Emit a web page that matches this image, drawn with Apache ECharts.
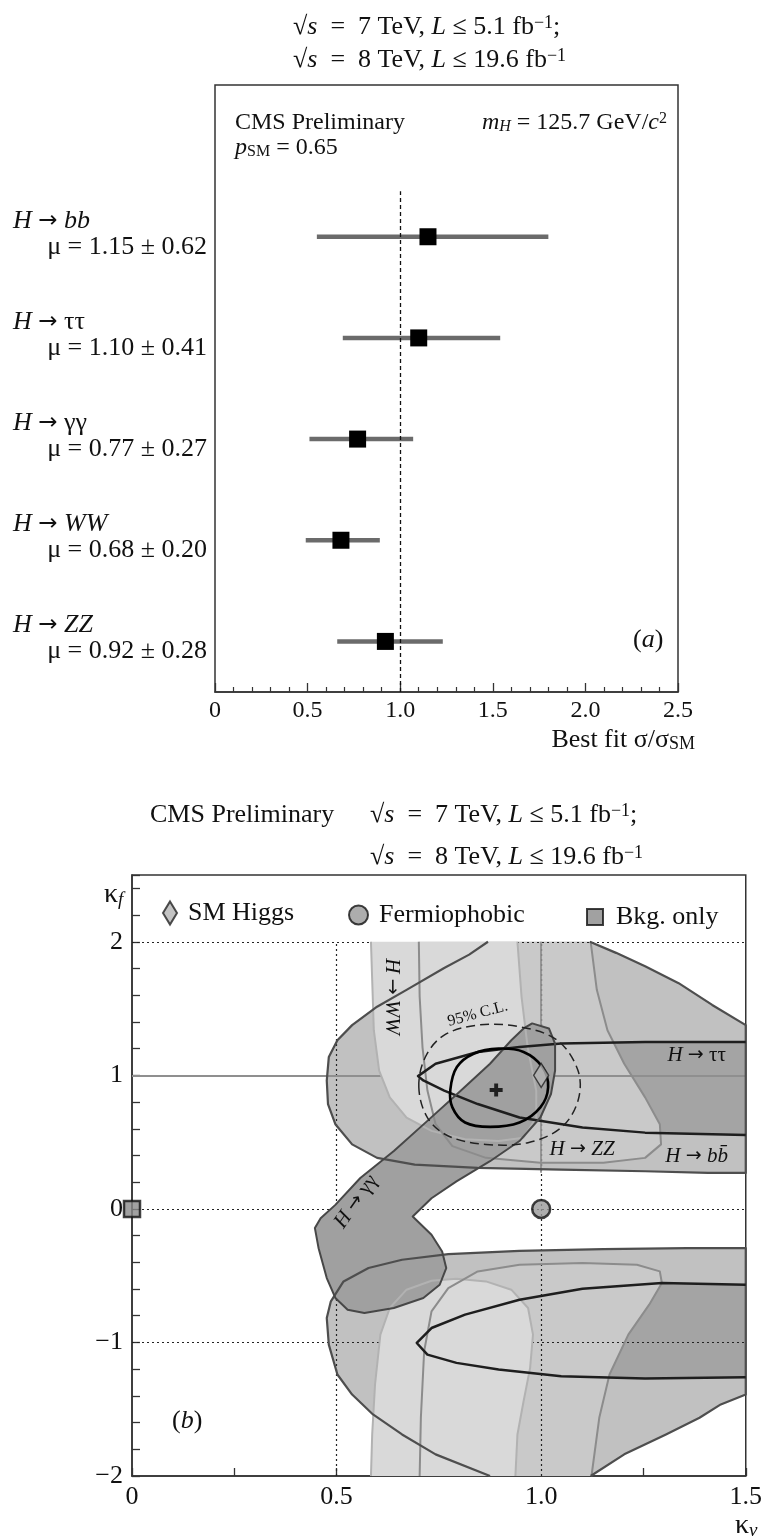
<!DOCTYPE html>
<html>
<head>
<meta charset="utf-8">
<script src="https://cdn.jsdelivr.net/npm/echarts@6/dist/echarts.min.js"></script>
<style>
  html, body { margin: 0; padding: 0; background: #fff; }
  #chart { width: 765px; height: 1537px; }
</style>
</head>
<body>
<div id="chart"></div>
<script>
const SERIF = "'Liberation Serif', 'Times New Roman', serif";

// ---- panel (a): signal strength per channel ----
const channelLabels = ["{i|H} {a|→} {i|bb}", "{i|H} {a|→} ττ", "{i|H} {a|→} γγ", "{i|H} {a|→} {i|WW}", "{i|H} {a|→} {i|ZZ}"];
const muCentral = [1.15, 1.10, 0.77, 0.68, 0.92];
const muError = [0.62, 0.41, 0.27, 0.20, 0.28];
const barLow = [0.55, 0.69, 0.51, 0.49, 0.66];
const barHigh = [1.80, 1.54, 1.07, 0.89, 1.23];
const rowPos = [4.5, 3.5, 2.5, 1.5, 0.5];
const muTickLabels = ["0", "0.5", "1.0", "1.5", "2.0", "2.5"];

// ---- panel (b): kappa_V / kappa_f contours ----
const kvTickValues = [0, 0.5, 1, 1.5];
const kvTickLabels = ["0", "0.5", "1.0", "1.5"];
const kfTickValues = [-2, -1, 0, 1, 2];
const kfTickLabels = ["\u22122", "\u22121", "0", "1", "2"];
const kfGrid = [2, 0, -1];
const kvGrid = [0.5, 1.0];

const bbUpper = [[1.119,2],[1.183,1.917],[1.254,1.816],[1.336,1.69],[1.418,1.527],[1.5,1.376],[1.5,0.269],
  [1.408,0.269],[1.254,0.282],[1.049,0.294],[0.845,0.307],[0.691,0.332],[0.599,0.382],[0.538,0.483],
  [0.497,0.634],[0.479,0.785],[0.476,0.961],[0.481,1.137],[0.502,1.263],[0.538,1.376],[0.599,1.514],
  [0.671,1.64],[0.763,1.804],[0.824,1.904],[0.87,2]];
const bbLower = [[0.875,-2],[0.742,-1.838],[0.66,-1.689],[0.589,-1.539],[0.538,-1.39],[0.502,-1.24],
  [0.481,-1.016],[0.476,-0.817],[0.486,-0.692],[0.517,-0.543],[0.578,-0.443],[0.66,-0.381],[0.773,-0.339],
  [0.947,-0.314],[1.152,-0.301],[1.357,-0.294],[1.5,-0.294],[1.5,-1.39],[1.439,-1.464],[1.387,-1.564],
  [1.305,-1.689],[1.203,-1.838],[1.121,-2]];
const tautauUpper = [[1.5,1.25],[1.254,1.25],[1.049,1.238],[0.947,1.213],[0.845,1.175],[0.742,1.087],
  [0.699,0.994],[0.712,0.962],[0.763,0.886],[0.845,0.785],[0.947,0.684],[1.101,0.609],[1.254,0.571],[1.5,0.553]];
const tautauLower = [[1.5,-0.568],[1.295,-0.555],[1.101,-0.598],[0.947,-0.68],[0.814,-0.792],[0.732,-0.892],
  [0.696,-1.004],[0.722,-1.091],[0.793,-1.153],[0.896,-1.203],[1.049,-1.253],[1.254,-1.27],[1.5,-1.26]];
const zzUpper = [[0.701,2],[0.703,1.59],[0.71,1.21],[0.722,0.886],[0.742,0.634],[0.783,0.47],[0.865,0.382],
  [0.998,0.345],[1.152,0.345],[1.254,0.382],[1.293,0.483],[1.29,0.634],[1.254,0.835],[1.203,1.087],
  [1.162,1.338],[1.136,1.64],[1.121,2]];
const zzLower = [[0.703,-2],[0.706,-1.564],[0.714,-1.066],[0.732,-0.767],[0.773,-0.593],[0.845,-0.468],
  [0.947,-0.418],[1.101,-0.406],[1.234,-0.418],[1.29,-0.468],[1.295,-0.555],[1.264,-0.717],[1.213,-0.941],
  [1.167,-1.24],[1.142,-1.564],[1.123,-2]];
const wwUpper = [[0.584,2],[0.587,1.716],[0.591,1.338],[0.604,1.036],[0.63,0.835],[0.671,0.684],[0.732,0.584],
  [0.814,0.521],[0.896,0.508],[0.957,0.533],[0.988,0.684],[0.988,0.885],[0.967,1.21],[0.952,1.59],[0.942,2]];
const wwLower = [[0.584,-2],[0.587,-1.689],[0.594,-1.315],[0.607,-0.941],[0.63,-0.742],[0.671,-0.605],
  [0.732,-0.538],[0.793,-0.523],[0.865,-0.543],[0.927,-0.605],[0.968,-0.742],[0.98,-0.941],[0.973,-1.19],
  [0.957,-1.44],[0.942,-1.689],[0.937,-2]];
const gammagamma = [[0.978,1.389],[1.019,1.351],[1.034,1.238],[1.034,1.036],[1.024,0.86],[0.998,0.684],
  [0.947,0.508],[0.875,0.357],[0.793,0.206],[0.732,0.08],[0.686,-0.057],[0.732,-0.194],[0.758,-0.319],
  [0.768,-0.443],[0.752,-0.568],[0.712,-0.667],[0.64,-0.742],[0.568,-0.78],[0.527,-0.755],[0.497,-0.667],
  [0.476,-0.518],[0.456,-0.294],[0.447,-0.144],[0.461,-0.07],[0.497,0.03],[0.558,0.231],[0.64,0.433],
  [0.722,0.659],[0.804,0.886],[0.875,1.087],[0.927,1.263],[0.957,1.351]];
const combined68 = [[0.778,0.893],[0.794,1.062],[0.835,1.162],[0.896,1.2],[0.957,1.175],[1.003,1.062],
  [1.017,0.911],[0.998,0.76],[0.947,0.647],[0.875,0.614],[0.814,0.647],[0.783,0.76]];
const combined95 = [[0.701,0.911],[0.717,1.137],[0.763,1.301],[0.845,1.376],[0.947,1.364],[1.039,1.263],
  [1.09,1.036],[1.09,0.81],[1.049,0.609],[0.968,0.496],[0.865,0.483],[0.773,0.546],[0.722,0.684]];
const bestFit = [[0.89, 0.89]];
const smHiggs = [[1, 1]];
const fermiophobic = [[1, 0]];
const bkgOnly = [[0, 0]];

const regionLabels = [
  { text: "{i|H} {a|→} ττ", pos: [1.38, 1.15], rot: 0 },
  { text: "{i|H} {a|→} {i|bb\u0304}", pos: [1.38, 0.395], rot: 0 },
  { text: "{i|H} {a|→} {i|ZZ}", pos: [1.10, 0.445], rot: 0 },
  { text: "{s|95% C.L.}", pos: [0.845, 1.46], rot: 15 },
  { text: "{i|H} {a|→} {i|WW}", pos: [0.635, 1.59], rot: -90 },
  { text: "{i|H} {a|→} γγ", pos: [0.548, 0.055], rot: 55 }
];

function rich(size) {
  return {
    n: { fontFamily: SERIF, fontSize: size, fill: "#111" },
    i: { fontFamily: SERIF, fontSize: size, fontStyle: "italic", fill: "#111" },
    a: { fontFamily: "'DejaVu Sans', sans-serif", fontSize: Math.round(size * 0.9), fill: "#111" },
    s: { fontFamily: SERIF, fontSize: Math.round(size * 0.78), fill: "#111" },
    sub: { fontFamily: SERIF, fontSize: Math.round(size * 0.68), fill: "#111", verticalAlign: "bottom" },
    isub: { fontFamily: SERIF, fontSize: Math.round(size * 0.68), fontStyle: "italic", fill: "#111", verticalAlign: "bottom" },
    sup: { fontFamily: SERIF, fontSize: Math.round(size * 0.68), fill: "#111", verticalAlign: "top" }
  };
}

function txt(x, y, text, size, align) {
  return {
    type: "text", x: x, y: y, silent: true,
    style: {
      text: text, fontFamily: SERIF, fontSize: size, fill: "#111",
      align: align || "left", textAlign: align || "left",
      verticalAlign: "middle", textVerticalAlign: "middle",
      rich: rich(size)
    }
  };
}

function near(v, list) {
  for (let k = 0; k < list.length; k++) if (Math.abs(v - list[k]) < 1e-6) return k;
  return -1;
}

function regionFill(pts, fill, z) {
  return {
    type: "custom", xAxisIndex: 1, yAxisIndex: 1, z: z, silent: true, data: [pts[0]],
    renderItem: function (params, api) {
      return { type: "polygon", shape: { points: pts.map(p => api.coord(p)) }, style: { fill: fill, stroke: "none" } };
    }
  };
}

function regionLine(pts, stroke, width, closed, dash, smooth) {
  return {
    type: "custom", xAxisIndex: 1, yAxisIndex: 1, z: 7, silent: true, data: [pts[0]],
    renderItem: function (params, api) {
      return {
        type: closed ? "polygon" : "polyline",
        shape: { points: pts.map(p => api.coord(p)), smooth: smooth || 0 },
        style: { fill: "none", stroke: stroke, lineWidth: width, lineDash: dash || null, lineJoin: "round" }
      };
    }
  };
}

const chart = echarts.init(document.getElementById("chart"), null, { renderer: "canvas" });

const dotted = { type: [2, 3], color: "#222", width: 1.2 };
const gridMarks = [];
kfGrid.forEach(v => gridMarks.push([{ coord: [0, v] }, { coord: [1.5, v] }]));
kvGrid.forEach(v => gridMarks.push([{ coord: [v, -2] }, { coord: [v, 2] }]));

const option = {
  animation: false,
  backgroundColor: "#fff",
  grid: [
    { left: 215, top: 85, width: 463, height: 607, show: true, borderColor: "#333", borderWidth: 1.5 },
    { left: 132, top: 875, width: 616, height: 601, show: true, borderColor: "#333", borderWidth: 1.5 }
  ],
  xAxis: [
    {
      gridIndex: 0, type: "value", min: 0, max: 2.5, interval: 0.5,
      axisLine: { show: true, onZero: false, lineStyle: { color: "#333", width: 1.5 } },
      axisTick: { show: true, inside: true, length: 9, lineStyle: { color: "#333", width: 1.3 } },
      minorTick: { show: true, splitNumber: 5, length: 5, lineStyle: { color: "#333", width: 1.2 } },
      splitLine: { show: false },
      axisLabel: {
        fontFamily: SERIF, fontSize: 24, color: "#111", margin: 7,
        formatter: function (v) { const k = near(v, [0, 0.5, 1, 1.5, 2, 2.5]); return k < 0 ? "" : muTickLabels[k]; }
      }
    },
    {
      gridIndex: 1, type: "value", min: 0, max: 1.5, interval: 0.25,
      axisLine: { show: true, onZero: false, lineStyle: { color: "#333", width: 1.5 } },
      axisTick: { show: true, inside: true, length: 8, lineStyle: { color: "#333", width: 1.3 } },
      splitLine: { show: false },
      axisLabel: {
        fontFamily: SERIF, fontSize: 26, color: "#111", margin: 8,
        formatter: function (v) { const k = near(v, kvTickValues); return k < 0 ? "" : kvTickLabels[k]; }
      }
    }
  ],
  yAxis: [
    { gridIndex: 0, type: "value", min: 0, max: 6, show: false },
    {
      gridIndex: 1, type: "value", min: -2, max: 2.5, interval: 0.2,
      axisLine: { show: true, onZero: false, lineStyle: { color: "#333", width: 1.5 } },
      axisTick: { show: true, inside: true, length: 8, lineStyle: { color: "#333", width: 1.3 } },
      splitLine: { show: false },
      axisLabel: {
        fontFamily: SERIF, fontSize: 26, color: "#111", margin: 9,
        formatter: function (v) { const k = near(v, kfTickValues); return k < 0 ? "" : kfTickLabels[k]; }
      }
    }
  ],
  legend: [
    { data: [{ name: "SM Higgs", icon: "diamond" }], left: 157, top: 895, itemWidth: 14, itemHeight: 23, selectedMode: false,
      textStyle: { fontFamily: SERIF, fontSize: 26, color: "#111", padding: [0, 0, 0, 6] } },
    { data: [{ name: "Fermiophobic", icon: "circle" }], left: 343, top: 897, itemWidth: 19, itemHeight: 19, selectedMode: false,
      textStyle: { fontFamily: SERIF, fontSize: 26, color: "#111", padding: [0, 0, 0, 6] } },
    { data: [{ name: "Bkg. only", icon: "rect" }], left: 581, top: 899, itemWidth: 16, itemHeight: 16, selectedMode: false,
      textStyle: { fontFamily: SERIF, fontSize: 26, color: "#111", padding: [0, 0, 0, 8] } }
  ],
  graphic: [
    txt(293, 27, "√{i|s}  =  7 TeV, {i|L} ≤ 5.1 fb{sup|\u22121};", 26),
    txt(293, 60, "√{i|s}  =  8 TeV, {i|L} ≤ 19.6 fb{sup|\u22121}", 26),
    txt(235, 123, "CMS Preliminary", 24),
    txt(235, 148, "{i|p}{sub|SM} = 0.65", 24),
    txt(667, 123, "{i|m}{isub|H} = 125.7 GeV/{i|c}{sup|2}", 24, "right"),
    txt(633, 640, "({i|a})", 26),
    txt(695, 740, "Best fit σ/σ{sub|SM}", 26, "right"),
    txt(150, 815, "CMS Preliminary", 26),
    txt(370, 815, "√{i|s}  =  7 TeV, {i|L} ≤ 5.1 fb{sup|\u22121};", 26),
    txt(370, 857, "√{i|s}  =  8 TeV, {i|L} ≤ 19.6 fb{sup|\u22121}", 26),
    txt(104, 895, "κ{isub|f}", 28),
    txt(735, 1526, "κ{isub|v}", 28),
    txt(172, 1421, "({i|b})", 26)
  ],
  series: [
    // panel (a)
    {
      type: "custom", xAxisIndex: 0, yAxisIndex: 0, z: 3, silent: true,
      data: rowPos.map((r, i) => [barLow[i], barHigh[i], r]),
      encode: { x: [0, 1], y: 2 },
      renderItem: function (params, api) {
        const a = api.coord([api.value(0), api.value(2)]);
        const b = api.coord([api.value(1), api.value(2)]);
        return { type: "line", shape: { x1: a[0], y1: a[1], x2: b[0], y2: b[1] }, style: { stroke: "#6b6b6b", lineWidth: 4.5 } };
      }
    },
    {
      type: "scatter", xAxisIndex: 0, yAxisIndex: 0, z: 4, silent: true,
      symbol: "rect", symbolSize: 17, itemStyle: { color: "#000", opacity: 1 },
      data: rowPos.map((r, i) => [muCentral[i], r]),
      markLine: {
        silent: true, symbol: "none", label: { show: false },
        lineStyle: { type: [4, 3], color: "#111", width: 1.3 },
        data: [[{ coord: [1, 0] }, { coord: [1, 4.95] }]]
      }
    },
    {
      type: "custom", xAxisIndex: 0, yAxisIndex: 0, z: 5, silent: true, clip: false,
      data: rowPos.map((r, i) => [0, r]),
      renderItem: function (params, api) {
        const i = params.dataIndex;
        const p = api.coord([0, rowPos[i]]);
        const mu = "μ = " + muCentral[i].toFixed(2) + " ± " + muError[i].toFixed(2);
        return {
          type: "group",
          children: [txt(13, p[1] - 16, channelLabels[i], 26), txt(207, p[1] + 10, mu, 26, "right")]
        };
      }
    },
    // panel (b): dotted grid
    {
      type: "scatter", xAxisIndex: 1, yAxisIndex: 1, z: 1, silent: true, data: [],
      markLine: { silent: true, symbol: "none", label: { show: false }, lineStyle: dotted, data: gridMarks }
    },
    regionFill(bbUpper, "#c1c1c1", 2),
    regionFill(bbLower, "#c1c1c1", 2),
    regionFill(tautauUpper, "#a4a4a4", 3),
    regionFill(tautauLower, "#a4a4a4", 3),
    regionFill(zzUpper, "#c9c9c9", 4),
    regionFill(zzLower, "#c9c9c9", 4),
    regionFill(wwUpper, "#d9d9d9", 5),
    regionFill(wwLower, "#d9d9d9", 5),
    regionFill(gammagamma, "#a0a0a0", 6),
    regionLine(wwUpper, "#b2b2b2", 2, false),
    regionLine(wwLower, "#b2b2b2", 2, false),
    regionLine(zzUpper, "#8c8c8c", 2, false),
    regionLine(zzLower, "#8c8c8c", 2, false),
    regionLine(bbUpper, "#4e4e4e", 2.2, false),
    regionLine(bbLower, "#4e4e4e", 2.2, false),
    regionLine(tautauUpper, "#1e1e1e", 2.5, false),
    regionLine(tautauLower, "#1e1e1e", 2.5, false),
    regionLine(gammagamma, "#474747", 2, true),
    // SM cross-hair lines
    {
      type: "scatter", xAxisIndex: 1, yAxisIndex: 1, z: 8, silent: true, data: [],
      markLine: {
        silent: true, symbol: "none", label: { show: false },
        lineStyle: { type: "solid", color: "#8f8f8f", width: 1.8 },
        data: [[{ coord: [0, smHiggs[0][1]] }, { coord: [1.5, smHiggs[0][1]] }],
               [{ coord: [smHiggs[0][0], 0.27] }, { coord: [smHiggs[0][0], 2] }]]
      }
    },
    Object.assign(regionLine(combined68, "#000", 2.6, true, null, 0.35), { z: 9 }),
    Object.assign(regionLine(combined95, "#222", 1.5, true, [9, 5], 0.35), { z: 9 }),
    {
      name: "Best fit", type: "scatter", xAxisIndex: 1, yAxisIndex: 1, z: 10, silent: true,
      symbol: "path://M3.5,0H6.5V3.5H10V6.5H6.5V10H3.5V6.5H0V3.5H3.5Z", symbolSize: 13,
      itemStyle: { color: "#000" }, data: bestFit
    },
    {
      name: "SM Higgs", type: "scatter", xAxisIndex: 1, yAxisIndex: 1, z: 10, silent: true,
      symbol: "diamond", symbolSize: [15, 24],
      itemStyle: { color: "#b4b4b4", borderColor: "#222", borderWidth: 1.5 }, data: smHiggs
    },
    {
      name: "Fermiophobic", type: "scatter", xAxisIndex: 1, yAxisIndex: 1, z: 10, silent: true,
      symbol: "circle", symbolSize: 18,
      itemStyle: { color: "#999", borderColor: "#111", borderWidth: 2.5 }, data: fermiophobic
    },
    {
      name: "Bkg. only", type: "scatter", xAxisIndex: 1, yAxisIndex: 1, z: 10, silent: true, clip: false,
      symbol: "rect", symbolSize: 16,
      itemStyle: { color: "#8a8a8a", borderColor: "#111", borderWidth: 2.5 }, data: bkgOnly
    },
    {
      type: "custom", xAxisIndex: 1, yAxisIndex: 1, z: 11, silent: true,
      data: regionLabels.map(l => l.pos),
      renderItem: function (params, api) {
        const l = regionLabels[params.dataIndex];
        const p = api.coord(l.pos);
        const t = txt(p[0], p[1], l.text, 21);
        t.style.align = "center"; t.style.textAlign = "center";
        t.rotation = l.rot * Math.PI / 180;
        return t;
      }
    }
  ]
};

chart.setOption(option);
</script>
</body>
</html>
